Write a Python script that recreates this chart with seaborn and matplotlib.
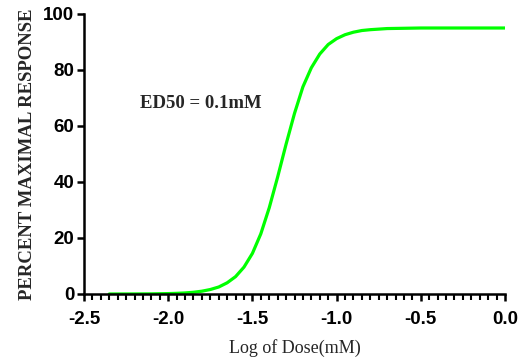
import matplotlib
matplotlib.use("Agg")
import matplotlib.pyplot as plt
from matplotlib.ticker import MultipleLocator, FormatStrFormatter
import seaborn as sns
import pandas as pd

log_dose = [-2.35, -2.2, -2.1, -2.0, -1.95, -1.9, -1.85, -1.8, -1.75, -1.7,
            -1.65, -1.6, -1.55, -1.5, -1.45, -1.4, -1.35, -1.3, -1.25, -1.2,
            -1.15, -1.1, -1.05, -1.0, -0.95, -0.9, -0.85, -0.8, -0.7, -0.6,
            -0.5, -0.3, 0.0]
response = [0.0, 0.02, 0.05, 0.15, 0.24, 0.38, 0.62, 1.0, 1.6, 2.5,
            4.0, 6.2, 9.6, 14.5, 21.5, 30.8, 41.8, 53.5, 64.5, 74.0,
            80.8, 85.7, 89.1, 91.2, 92.6, 93.5, 94.1, 94.4, 94.8, 94.9,
            95.0, 95.0, 95.0]

x_ticks = [-2.5, -2.0, -1.5, -1.0, -0.5, 0.0]
y_ticks = [0, 20, 40, 60, 80, 100]
annotation = "ED50 = 0.1mM"

sns.set_style("ticks")
plt.rcParams['font.family'] = ['Liberation Sans', 'DejaVu Sans']

df = pd.DataFrame({"log_dose": log_dose, "response": response})

fig = plt.figure(figsize=(5.21, 3.6), dpi=100)
ax = fig.add_axes([84/521, 1 - 294/360, (505 - 84)/521, (294 - 14)/360])

sns.lineplot(data=df, x="log_dose", y="response", ax=ax, color="#00ff00",
             linewidth=2.3, estimator=None, sort=True)

ax.set_xlim(-2.5, 0.0)
ax.set_ylim(0, 100)
ax.set_xticks(x_ticks)
ax.set_yticks(y_ticks)
ax.xaxis.set_major_formatter(FormatStrFormatter('%.1f'))
ax.xaxis.set_minor_locator(MultipleLocator(0.05))

for s in ["top", "right"]:
    ax.spines[s].set_visible(False)
for s in ["left", "bottom"]:
    ax.spines[s].set_linewidth(1.8)
    ax.spines[s].set_color("black")

ax.tick_params(axis="both", which="major", direction="out", length=5, width=1.8,
               colors="black", labelsize=13.5)
ax.tick_params(axis="x", which="minor", direction="out", length=4, width=1.5, colors="black")
ax.tick_params(axis="x", which="major", pad=7)
ax.tick_params(axis="y", which="major", pad=2)
for lbl in ax.get_xticklabels() + ax.get_yticklabels():
    lbl.set_fontweight("bold")

ax.set_xlabel("Log of Dose(mM)", family=["Liberation Serif"], fontsize=13, labelpad=8)
ax.set_ylabel("PERCENT MAXIMAL RESPONSE", family=["Liberation Serif"], fontsize=13.5,
              fontweight="bold", labelpad=5)

ax.text(-2.17, 68, annotation, family=["Liberation Serif"], fontsize=13.5,
        fontweight="bold", va="center", ha="left")

fig.savefig("out.png", dpi=100)
